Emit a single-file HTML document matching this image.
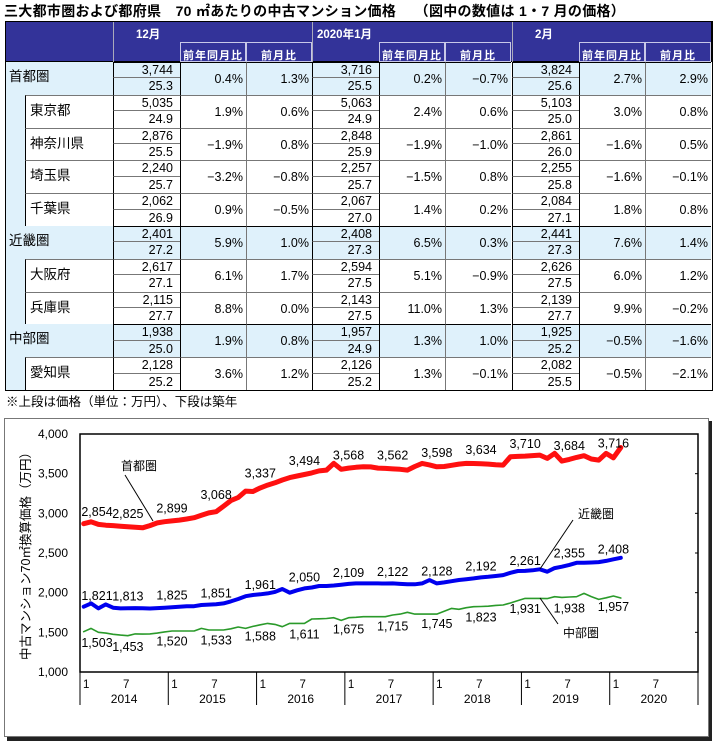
<!DOCTYPE html>
<html><head><meta charset="utf-8">
<style>
body{margin:0;width:715px;height:745px;position:relative;background:#fff;font-family:"Liberation Sans","Noto Sans CJK JP",sans-serif;overflow:hidden}
.c{position:absolute;box-sizing:border-box;font-size:12.5px;color:#000;white-space:nowrap}
#title{position:absolute;left:4px;top:1px;font-size:14px;font-weight:bold;letter-spacing:0.3px}
#note{position:absolute;left:6px;top:391px;font-size:12.5px}
svg text{font-family:"Liberation Sans","Noto Sans CJK JP",sans-serif}
</style></head><body>
<div id="title">三大都市圏および都府県　70 ㎡あたりの中古マンション価格　 （図中の数値は 1・7 月の価格）</div>
<div id="tbl"></div>
<div id="note">※上段は価格（単位：万円）、下段は築年</div>
<svg id="chart" width="715" height="745" style="position:absolute;left:0;top:0"></svg>
<script>
// ---------- table ----------
const groupNames=["12月","2020年1月","2月"];
const rowNames=["首都圏","東京都","神奈川県","埼玉県","千葉県","近畿圏","大阪府","兵庫県","中部圏","愛知県"];
const rowRegion=[true,false,false,false,false,true,false,false,true,false];
const prices=[["3,744","3,716","3,824"],["5,035","5,063","5,103"],["2,876","2,848","2,861"],["2,240","2,257","2,255"],["2,062","2,067","2,084"],["2,401","2,408","2,441"],["2,617","2,594","2,626"],["2,115","2,143","2,139"],["1,938","1,957","1,925"],["2,128","2,126","2,082"]];
const ages=[["25.3","25.5","25.6"],["24.9","24.9","25.0"],["25.5","25.9","26.0"],["25.7","25.7","25.8"],["26.9","27.0","27.1"],["27.2","27.3","27.3"],["27.1","27.5","27.5"],["27.7","27.5","27.7"],["25.0","24.9","25.2"],["25.2","25.2","25.5"]];
const yoy=[["0.4%","0.2%","2.7%"],["1.9%","2.4%","3.0%"],["−1.9%","−1.9%","−1.6%"],["−3.2%","−1.5%","−1.6%"],["0.9%","1.4%","1.8%"],["5.9%","6.5%","7.6%"],["6.1%","5.1%","6.0%"],["8.8%","11.0%","9.9%"],["1.9%","1.3%","−0.5%"],["3.6%","1.3%","−0.5%"]];
const mom=[["1.3%","−0.7%","2.9%"],["0.6%","0.6%","0.8%"],["0.8%","−1.0%","0.5%"],["−0.8%","0.8%","−0.1%"],["−0.5%","0.2%","0.8%"],["1.0%","0.3%","1.4%"],["1.7%","−0.9%","1.2%"],["0.0%","1.3%","−0.2%"],["0.8%","1.0%","−1.6%"],["1.2%","−0.1%","−2.1%"]];
const tbl=document.getElementById('tbl');
const HB='#333399',LB='#dff1fb';
function cell(x,y,w,h,css,txt){const d=document.createElement('div');d.className='c';d.style.cssText=`left:${x}px;top:${y}px;width:${w}px;height:${h}px;`+css;if(txt!==undefined)d.textContent=txt;tbl.appendChild(d);return d;}
const gx=[113,312,512],cw=[67,66,66];
let h=cell(5,21,707,41,`background:${HB};border:1px solid #000;`);


for(let g=0;g<3;g++){
  const x=gx[g];
  let t=cell(x,21,200,41,`border-left:1px solid #aab;color:#fff;font-weight:bold;font-size:11.5px;padding:5px 0 0 ${g==1?4:22}px;`,groupNames[g]);
  
  
  for(let k=0;k<2;k++){
    let s=cell(x+cw[0]+k*66,42,66,20,`border:1px solid #c8c8e8;color:#fff;font-weight:bold;font-size:11px;text-align:center;padding-top:4px;letter-spacing:1px;`,k==0?'前年同月比':'前月比');
    
    
  }
}
const RH=32.8;
for(let r=0;r<10;r++){
  const y=62+r*RH,reg=rowRegion[r],bg=reg?LB:'#fff';
  let lc=cell(5,y,108,RH,`background:${LB};border-left:1px solid #000;border-right:1px solid #000;${reg?'border-top:1px solid #000;':''}`);
  
  
  let lt=cell(reg?5:25,y,reg?108:88,RH,`background:${bg};${reg?'':'border-left:1px solid #000;border-top:1px solid #777;'}font-size:13.5px;padding:3px 0 0 4px;`,rowNames[r]);
  
  
  for(let g=0;g<3;g++){
    const x=gx[g];
    let p=cell(x,y,cw[0],RH/2,`background:${bg};border-left:1px solid #000;border-top:1px solid ${reg?'#000':'#777'};border-bottom:1px solid #777;text-align:right;padding-right:7px;line-height:15px;`,prices[r][g]);
    
    
    let a=cell(x,y+RH/2,cw[0],RH/2,`background:${bg};border-left:1px solid #000;text-align:right;padding-right:7px;line-height:17px;`,ages[r][g]);
    
    
    let yv=cell(x+cw[0],y,66,RH,`background:${bg};border-left:1px solid #000;border-top:1px solid ${reg?'#000':'#777'};text-align:right;padding-right:3px;line-height:${RH}px;`,yoy[r][g]);
    
    
    let mv=cell(x+cw[0]+66,y,66,RH,`background:${bg};border-left:1px solid #777;border-top:1px solid ${reg?'#000':'#777'};text-align:right;padding-right:3px;line-height:${RH}px;`,mom[r][g]);
    
    
  }
}
let fr=cell(5,21,708,62+10*RH-21+1,'border:1.5px solid #000;');



// ---------- chart ----------
const tokyo=[2869,2893,2860,2850,2845,2838,2832,2825,2818,2845,2880,2895,
2905,2915,2928,2945,2975,3005,3020,3090,3160,3200,3280,3275,
3320,3356,3385,3420,3450,3470,3490,3510,3535,3545,3630,3555,
3570,3580,3587,3585,3570,3566,3560,3555,3545,3590,3630,3610,
3587,3590,3605,3620,3630,3628,3625,3620,3612,3608,3713,3718,
3722,3728,3734,3692,3755,3659,3680,3705,3726,3685,3671,3755,
3700,3830];
const kinki=[1823,1865,1802,1852,1810,1802,1803,1805,1804,1800,1805,1810,
1815,1822,1828,1830,1844,1850,1855,1865,1890,1920,1955,1970,
1980,1991,2010,2046,1999,2030,2054,2065,2084,2084,2090,2100,
2110,2117,2117,2117,2117,2115,2117,2110,2105,2105,2117,2159,
2117,2130,2145,2160,2170,2180,2192,2200,2210,2222,2250,2273,
2275,2282,2294,2264,2310,2327,2350,2377,2377,2380,2385,2400,
2420,2440];
const chubu=[1508,1550,1500,1490,1475,1465,1457,1480,1478,1480,1490,1505,
1517,1517,1517,1517,1550,1529,1529,1530,1545,1567,1550,1575,
1595,1613,1600,1571,1613,1613,1613,1668,1670,1675,1684,1651,
1684,1690,1697,1697,1697,1697,1718,1730,1752,1730,1730,1730,
1730,1765,1802,1790,1810,1823,1825,1830,1840,1844,1870,1900,
1928,1928,1928,1925,1949,1940,1945,1949,1991,1950,1915,1935,
1958,1933];
const labelIdx=[0,6,12,18,24,30,36,42,48,54,60,66,72];
const tokyoLabels=[2854,2825,2899,3068,3337,3494,3568,3562,3598,3634,3710,3684,3716];
const kinkiLabels=[1821,1813,1825,1851,1961,2050,2109,2122,2128,2192,2261,2355,2408];
const chubuLabels=[1503,1453,1520,1533,1588,1611,1675,1715,1745,1823,1931,1938,1957];
const yTicks=[1000,1500,2000,2500,3000,3500,4000];
const years=[2014,2015,2016,2017,2018,2019,2020];

const svg=document.getElementById('chart');
const NS='http://www.w3.org/2000/svg';
const PX0=80,PX1=698,PY0=434,PY1=672,YMIN=1000,YMAX=4000;
const MW=(PX1-PX0)/(years.length*12);
const xS=i=>PX0+3.7+i*MW;
const yS=v=>PY1-(v-YMIN)/(YMAX-YMIN)*(PY1-PY0);
function el(tag,attrs,txt){const e=document.createElementNS(NS,tag);for(const k in attrs)e.setAttribute(k,attrs[k]);if(txt!==undefined)e.textContent=txt;svg.appendChild(e);return e;}
const fmt=v=>v.toLocaleString('en-US');

let sh=el('rect',{x:7,y:421,width:705,height:320,fill:'#222'});


let bx=el('rect',{x:4.5,y:418.5,width:704,height:318,fill:'#fff',stroke:'#777','stroke-width':1});


let pa=el('rect',{x:PX0,y:PY0,width:PX1-PX0,height:PY1-PY0,fill:'none',stroke:'#000','stroke-width':1.5});


yTicks.forEach(v=>{
  let t=el('text',{x:68,y:yS(v)+4,'text-anchor':'end','font-size':12},fmt(v));
  
  
  if(v>YMIN&&v<YMAX){let m=el('line',{x1:PX1-3,x2:PX1,y1:yS(v),y2:yS(v),stroke:'#000'});
  
  }
});
let yt=el('text',{x:0,y:0,transform:'translate(30,553) rotate(-90)','text-anchor':'middle','font-size':12.5},'中古マンション70㎡換算価格（万円）');


years.forEach((yr,k)=>{
  const x0=PX0+k*12*MW;
  if(k>0){let d=el('line',{x1:x0,x2:x0,y1:PY1,y2:705,stroke:'#000'});
  
  }
  let a=el('text',{x:x0+3,y:688,'font-size':11.5},'1');
  
  
  let b=el('text',{x:x0+6*MW+2,y:688,'font-size':11.5,'text-anchor':'middle'},'7');
  
  
  let c=el('text',{x:x0+6*MW,y:703,'font-size':12,'text-anchor':'middle'},String(yr));
  
  
});
let d0=el('line',{x1:PX0,x2:PX0,y1:PY1,y2:705,stroke:'#000'});


let d1=el('line',{x1:PX1,x2:PX1,y1:PY1,y2:705,stroke:'#000'});



function series(data,color,w,name){
  const pts=data.map((v,i)=>xS(i).toFixed(1)+','+yS(v).toFixed(1)).join(' ');
  let p=el('polyline',{points:pts,fill:'none',stroke:color,'stroke-width':w,'stroke-linejoin':'round','stroke-linecap':'round'});
  
  
}
series(chubu,'#2a9a2a',1.6,'chubu-line');
series(kinki,'#0000ee',4,'kinki-line');
series(tokyo,'#ff1010',5,'tokyo-line');
function labels(vals,off,name){
  vals.forEach((v,k)=>{
    const x=Math.max(97,xS(labelIdx[k]));
    let t=el('text',{x:x,y:yS(v)+off+4,'text-anchor':'middle','font-size':12.5},fmt(v));
    
    
  });
}
labels(tokyoLabels,-13,'tokyo-value-label');
labels(kinkiLabels,-11,'kinki-value-label');
labels(chubuLabels,11,'chubu-value-label');
let n1=el('text',{x:121,y:470,'font-size':12},'首都圏');


let l1=el('line',{x1:125,y1:475,x2:153,y2:521,stroke:'#000'});


let n2=el('text',{x:578,y:518,'font-size':12},'近畿圏');


let l2=el('line',{x1:573,y1:520,x2:540,y2:569,stroke:'#000'});


let n3=el('text',{x:563,y:637,'font-size':12},'中部圏');


let l3=el('line',{x1:540,y1:598,x2:558,y2:624,stroke:'#000'});


</script>
</body></html>
